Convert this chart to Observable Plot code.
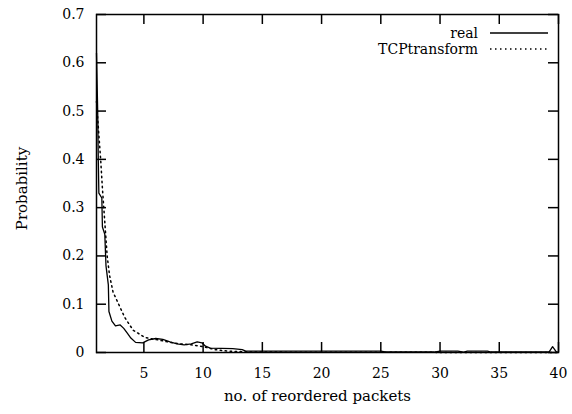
<!DOCTYPE html>
<html>
<head>
<meta charset="utf-8">
<script src="https://cdn.jsdelivr.net/npm/d3@7"></script>
<script src="https://cdn.jsdelivr.net/npm/@observablehq/plot@0.6"></script>
<style>
  html, body { margin: 0; padding: 0; background: #fff; }
  #chart { position: relative; width: 572px; height: 414px; }
  #legend { position: absolute; right: 24px; top: 25px; font: 14px "DejaVu Serif", serif; color: #000; }
  #legend .row { display: flex; align-items: center; justify-content: flex-end; height: 16px; }
  #legend svg { margin-left: 12px; }
</style>
</head>
<body>
<div id="chart"></div>
<script>
// Distribution of the number of reordered packets: measured trace vs. TCPtransform
const realX = [1.0, 1.1, 1.15, 1.2, 1.45, 1.5, 1.7, 1.8, 2.0, 2.05, 2.3, 2.6, 3.0, 3.3, 3.6, 3.9, 4.3, 4.9, 5.4, 6.0, 6.6, 7.2, 7.8, 8.4, 9.0, 9.5, 9.9, 10.2, 10.6, 12.5, 13.3, 13.6, 20, 25, 25.5, 29.5, 30, 31.5, 32, 32.3, 34, 34.3, 39.2, 39.5, 39.8, 40];
const realY = [0.62, 0.50, 0.40, 0.33, 0.32, 0.26, 0.245, 0.18, 0.14, 0.085, 0.065, 0.055, 0.057, 0.05, 0.04, 0.03, 0.021, 0.02, 0.026, 0.029, 0.027, 0.022, 0.018, 0.016, 0.018, 0.022, 0.02, 0.013, 0.009, 0.008, 0.006, 0.003, 0.003, 0.003, 0.001, 0.001, 0.003, 0.003, 0.001, 0.003, 0.003, 0.001, 0.001, 0.012, 0.002, 0.0];

const tcpX = [1.0, 1.2, 1.35, 1.5, 1.7, 1.9, 2.1, 2.4, 3.0, 3.4, 4.1, 5.1, 6, 7, 8, 9, 10, 11, 12, 14, 20, 40];
const tcpY = [0.52, 0.45, 0.40, 0.34, 0.27, 0.20, 0.16, 0.125, 0.093, 0.072, 0.046, 0.031, 0.027, 0.022, 0.018, 0.016, 0.012, 0.006, 0.003, 0.001, 0.0005, 0.0];

const xTicks = [5, 10, 15, 20, 25, 30, 35, 40];
const yTicks = [0, 0.1, 0.2, 0.3, 0.4, 0.5, 0.6, 0.7];

const real = realX.map((x, i) => ({x, y: realY[i]}));
const tcp = tcpX.map((x, i) => ({x, y: tcpY[i]}));

const width = 572, height = 414;
const margin = {top: 14, right: 14, bottom: 62, left: 96};
const innerW = width - margin.left - margin.right;
const innerH = height - margin.top - margin.bottom;
const tickLen = 10;
const font = "DejaVu Serif";

const chart = Plot.plot({
  width, height,
  marginTop: margin.top, marginRight: margin.right,
  marginBottom: margin.bottom, marginLeft: margin.left,
  style: {fontFamily: font, fontSize: "14px", background: "white", color: "black"},
  x: {domain: [1, 40], axis: null},
  y: {domain: [0, 0.7], axis: null},
  marks: [
    // inward ticks on all four sides
    Plot.tickX(xTicks, {x: d => d, insetTop: innerH - tickLen, stroke: "black", strokeWidth: 1.5}),
    Plot.tickX(xTicks, {x: d => d, insetBottom: innerH - tickLen, stroke: "black", strokeWidth: 1.5}),
    Plot.tickY(yTicks, {y: d => d, insetRight: innerW - tickLen, stroke: "black", strokeWidth: 1.5}),
    Plot.tickY(yTicks, {y: d => d, insetLeft: innerW - tickLen, stroke: "black", strokeWidth: 1.5}),
    // tick labels
    Plot.text(xTicks, {x: d => d, frameAnchor: "bottom", dy: 25, text: d => String(d), fill: "black"}),
    Plot.text(yTicks, {y: d => d, frameAnchor: "left", dx: -12, textAnchor: "end", text: d => d === 0 ? "0" : d3.format(".1f")(d), fill: "black"}),
    // axis titles
    Plot.text(["no. of reordered packets"], {frameAnchor: "bottom", dy: 48, dx: -10, text: d => d, fill: "black", fontSize: 15}),
    Plot.text(["Probability"], {frameAnchor: "left", textAnchor: "middle", dx: -74, dy: 5, rotate: -90, text: d => d, fill: "black", fontSize: 15}),
    // series
    Plot.line(tcp, {x: "x", y: "y", stroke: "black", strokeWidth: 1.5, strokeDasharray: "1.5,3.5"}),
    Plot.line(real, {x: "x", y: "y", stroke: "black", strokeWidth: 1.3}),
    Plot.frame({stroke: "black", strokeWidth: 1.5})
  ]
});

const host = document.getElementById("chart");
host.appendChild(chart);

// legend
const legend = document.createElement("div");
legend.id = "legend";
legend.innerHTML = `
  <div class="row"><span>real</span><svg width="58" height="4"><line x1="0" y1="2" x2="58" y2="2" stroke="black" stroke-width="1.5"/></svg></div>
  <div class="row"><span>TCPtransform</span><svg width="58" height="4"><line x1="0" y1="2" x2="58" y2="2" stroke="black" stroke-width="1.5" stroke-dasharray="1.5,3.5"/></svg></div>`;
host.appendChild(legend);
</script>
</body>
</html>
